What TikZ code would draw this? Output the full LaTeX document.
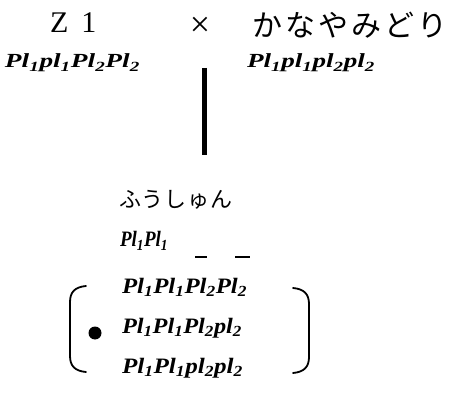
\documentclass[tikz,border=0pt]{standalone}
\usepackage{graphicx}
\usepackage{fontspec}
\setmainfont{Liberation Serif}
\newfontfamily\jpfont{Noto Sans CJK JP}
% genotype text squeezed or stretched to a given width, height kept
\newcommand\gtfit[2]{\resizebox{#1}{\height}{#2}}
\newcommand\lsub[1]{\textsubscript{#1}}
\begin{document}
\begin{tikzpicture}[x=1pt,y=-1pt,
  every node/.style={inner sep=0pt,outer sep=0pt},
  geno/.style={anchor=base west,font=\fontsize{22}{24}\selectfont\bfseries\itshape},
  genosmall/.style={anchor=base west,font=\fontsize{20}{22}\selectfont\bfseries\itshape},
  kana/.style={anchor=west},
  bracket/.style={line width=1.8pt,line cap=round},
  cross/.style={line width=5pt}]
\useasboundingbox (0,0) rectangle (452,395);

% parents
\node[anchor=base west,font=\fontsize{30}{32}\selectfont] (z1) at (50,33) {Z\hspace{13pt}1};
\node[font=\fontsize{36}{38}\selectfont] (times) at (200,27) {×};
\node[kana,font=\jpfont\fontsize{30}{32}\selectfont] (kanaya) at (252,25.5)
  {か\hspace{3pt}な\hspace{3pt}や\hspace{3pt}み\hspace{3pt}ど\hspace{3pt}り};
\node[genosmall] (gz1) at (5,68) {\gtfit{135pt}{Pl\lsub{1}pl\lsub{1}Pl\lsub{2}Pl\lsub{2}}};
\node[genosmall] (gkanaya) at (247,68) {\gtfit{128pt}{Pl\lsub{1}pl\lsub{1}pl\lsub{2}pl\lsub{2}}};

% cross line down to the progeny
\coordinate (crosstop) at (204,68);
\coordinate (crossbot) at (204,155);
\draw[cross] (crosstop) -- (crossbot);

% progeny
\node[kana,font=\jpfont\fontsize{22}{24}\selectfont] (fushun) at (119,200)
  {ふ\hspace{1pt}う\hspace{1pt}し\hspace{1pt}ゅ\hspace{1pt}ん};
\node[geno] (g1) at (120,247) {\gtfit{48pt}{Pl\lsub{1}Pl\lsub{1}}};
\coordinate (u1a) at (195,257); \coordinate (u1b) at (207,257);
\coordinate (u2a) at (235,257); \coordinate (u2b) at (250,257);
\draw[line width=1.4pt] (u1a) -- (u1b);
\draw[line width=1.4pt] (u2a) -- (u2b);

\node[geno] (g2) at (122,293) {\gtfit{125pt}{Pl\lsub{1}Pl\lsub{1}Pl\lsub{2}Pl\lsub{2}}};
\node[geno] (g3) at (122,333) {\gtfit{120pt}{Pl\lsub{1}Pl\lsub{1}Pl\lsub{2}pl\lsub{2}}};
\node[geno] (g4) at (122,373) {\gtfit{121pt}{Pl\lsub{1}Pl\lsub{1}pl\lsub{2}pl\lsub{2}}};
\fill (95,333) circle (6.5);

% brackets around the three candidates
\draw[bracket] (86,286) .. controls (75,287) and (70,292) .. (70,302)
  -- (70,356) .. controls (70,366) and (75,371) .. (86,372);
\draw[bracket] (293,288) .. controls (304,289) and (309,294) .. (309,304)
  -- (309,357) .. controls (309,367) and (304,372) .. (293,373);
\end{tikzpicture}
\end{document}
